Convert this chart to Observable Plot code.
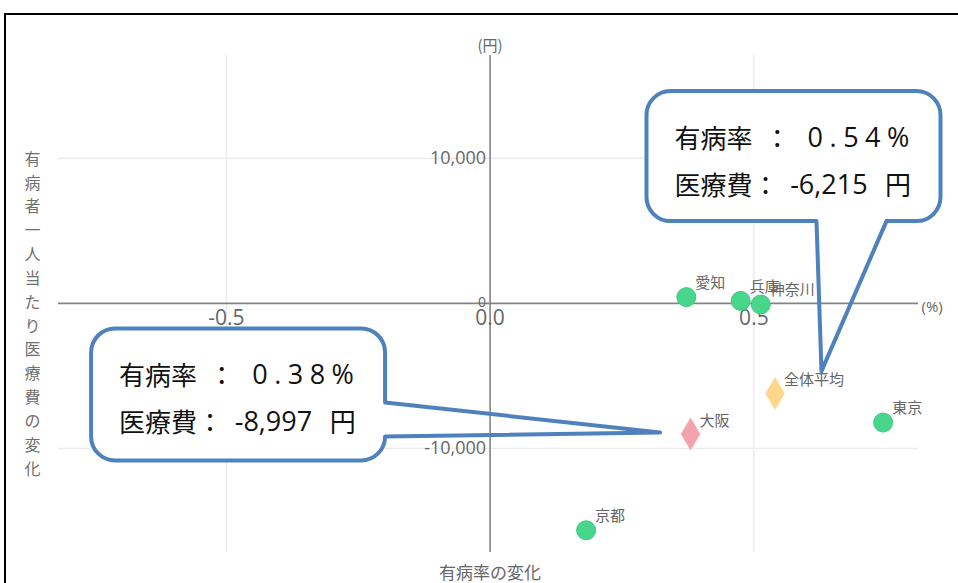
<!DOCTYPE html>
<html><head><meta charset="utf-8">
<script src="https://cdn.jsdelivr.net/npm/d3@7"></script>
<script src="https://cdn.jsdelivr.net/npm/@observablehq/plot@0.6"></script>
<style>
html,body{margin:0;padding:0;background:#fff;overflow:hidden;}
#wrap{position:relative;width:958px;height:583px;overflow:hidden;}
#chart{position:absolute;left:0;top:0;}
#frame{position:absolute;left:4px;top:13px;width:1000px;height:1000px;border:2px solid #000;box-sizing:border-box;pointer-events:none;}
</style></head><body>
<div id="wrap"><div id="chart"></div><div id="frame"></div></div>
<script>
// ---- data ----
const prefectures = ["愛知", "兵庫", "神奈川", "東京", "京都"];
const prevalenceChange = [0.372, 0.475, 0.513, 0.745, 0.182];
const costChange = [430, 170, -80, -8210, -15630];
const highlightNames = ["大阪", "全体平均"];
const highlightPrevalence = [0.38, 0.54];
const highlightCost = [-8997, -6215];
const highlightColors = ["#f3a3ab", "#ffd68a"];
const xTicks = [-0.5, 0.5];
const xTickLabels = ["-0.5", "0.5"];
const xZeroLabel = "0.0";
const yTicks = [-10000, 10000];
const yTickLabels = ["-10,000", "10,000"];
const yZeroLabel = "0";
const xTitle = "有病率の変化";
const yTitle = "有病者一人当たり医療費の変化";
const xUnit = "(%)";
const yUnit = "(円)";
const calloutFor = ["全体平均", "大阪"];

const points = prefectures.map((name, i) => ({name, x: prevalenceChange[i], y: costChange[i]}));
const highlights = highlightNames.map((name, i) => ({name, x: highlightPrevalence[i], y: highlightCost[i], color: highlightColors[i]}));
const xTickData = xTicks.map((v, i) => ({v, label: xTickLabels[i]}));
const yTickData = yTicks.map((v, i) => ({v, label: yTickLabels[i]}));

const cjk = "'Noto Sans CJK JP', 'Noto Sans', sans-serif";
const num = "'Open Sans', 'Noto Sans', sans-serif";
const tallDiamond = {draw(ctx) { ctx.moveTo(0, -16); ctx.lineTo(9.5, 0); ctx.lineTo(0, 16); ctx.lineTo(-9.5, 0); ctx.closePath(); }};

const chart = Plot.plot({
  width: 958, height: 583,
  marginLeft: 58, marginRight: 40, marginTop: 55, marginBottom: 31,
  x: {domain: [-0.818, 0.812], axis: null},
  y: {domain: [-17160, 17070], axis: null},
  color: {type: "identity"},
  style: {fontFamily: cjk, background: "transparent", overflow: "visible"},
  marks: [
    Plot.ruleX(xTicks, {stroke: "#ececec", strokeWidth: 1.5}),
    Plot.ruleY(yTicks, {stroke: "#ececec", strokeWidth: 1.5}),
    Plot.ruleY([0], {stroke: "#848484", strokeWidth: 1.6}),
    Plot.ruleX([0], {stroke: "#848484", strokeWidth: 1.6}),
    Plot.text(yTickData, {x: () => 0, y: "v", text: "label", textAnchor: "end", dx: -4, fontSize: 18, fill: "#666", fontFamily: num}),
    Plot.text([yZeroLabel], {x: () => 0, y: () => 0, text: d => d, textAnchor: "end", dx: -4, dy: -1, fontSize: 14, fill: "#666", fontFamily: num}),
    Plot.text(xTickData, {x: "v", y: () => 0, text: "label", dy: 15, fontSize: 21, fill: "#666", fontFamily: num}),
    Plot.text([xZeroLabel], {x: () => 0, y: () => 0, text: d => d, dy: 15, fontSize: 21, fill: "#666", fontFamily: num}),
    Plot.text([yUnit], {x: () => 0, frameAnchor: "top", text: d => d, dy: -15, fontSize: 15, fill: "#666"}),
    Plot.text([xUnit], {y: () => 0, frameAnchor: "right", text: d => d, textAnchor: "start", dx: 3, dy: 4, fontSize: 15, fill: "#666", fontFamily: num}),
    Plot.text([xTitle], {x: () => 0, frameAnchor: "bottom", text: d => d, dy: 26, fontSize: 17, fill: "#666"}),
    Plot.text([yTitle], {frameAnchor: "left", textAnchor: "middle", text: d => d.split("").join("\n"), dx: -26, dy: 8, lineHeight: 1.49, fontSize: 16, fill: "#707070"}),
    Plot.dot(points, {x: "x", y: "y", r: 9.5, fill: "#47d68c", stroke: "#3ccb80", strokeWidth: 1}),
    Plot.dot(highlights, {x: "x", y: "y", symbol: tallDiamond, fill: "color", stroke: "color", strokeWidth: 0.5}),
    Plot.text(points, {x: "x", y: "y", text: "name", dx: 9, dy: -14, textAnchor: "start", fontSize: 15, fill: "#666"}),
    Plot.text(highlights, {x: "x", y: "y", text: "name", dx: 9, dy: -13, textAnchor: "start", fontSize: 15, fill: "#666"})
  ]
});
document.getElementById("chart").appendChild(chart);

// ---- callouts anchored on data points ----
const sx = chart.scale("x"), sy = chart.scale("y");
const svg = d3.select(chart);
const R = 24;
const layouts = {
  "全体平均": {box: [-128, -302, 166, -172], side: "bottom", base: [42, 112], tip: [47, -22]},
  "大阪": {box: [-599, -105, -305, 27], side: "right", base: [-31, 3], tip: [-30, -1]}
};
const fmtCost = v => d3.format(",")(v).replace("\u2212", "-");
function toLines(h) {
  return [
    {cjk: "有病率  ：   ", num: h.x.toFixed(2) + "%", spacing: 6.5, tail: ""},
    {cjk: "医療費：  ", num: fmtCost(h.y), spacing: 0, tail: "   円"}
  ];
}
for (const name of calloutFor) {
  const h = highlights.find(d => d.name === name);
  const L = layouts[name];
  const px = sx.apply(h.x), py = sy.apply(h.y);
  const l = px + L.box[0], t = py + L.box[1], r = px + L.box[2], b = py + L.box[3];
  const tx = px + L.tip[0], ty = py + L.tip[1];
  let p = `M${l + R},${t}H${r - R}A${R},${R} 0 0 1 ${r},${t + R}`;
  if (L.side === "right") p += `V${py + L.base[0]}L${tx},${ty}L${r},${py + L.base[1]}`;
  p += `V${b - R}A${R},${R} 0 0 1 ${r - R},${b}`;
  if (L.side === "bottom") p += `H${px + L.base[1]}L${tx},${ty}L${px + L.base[0]},${b}`;
  p += `H${l + R}A${R},${R} 0 0 1 ${l},${b - R}V${t + R}A${R},${R} 0 0 1 ${l + R},${t}Z`;
  const g = svg.append("g").attr("text-anchor", "start");
  g.append("rect").attr("x", l).attr("y", t).attr("width", r - l).attr("height", b - t).attr("rx", R).attr("fill", "#fff");
  g.append("path").attr("d", p).attr("fill", "none").attr("stroke", "#4f81bd").attr("stroke-width", 4).attr("stroke-linejoin", "round");
  toLines(h).forEach((ln, i) => {
    const text = g.append("text").attr("x", l + 28).attr("y", t + 45 + i * 47)
      .attr("text-anchor", "start")
      .attr("dominant-baseline", "central").attr("fill", "#111")
      .style("white-space", "pre").attr("font-family", cjk).attr("font-size", 26);
    text.append("tspan").text(ln.cjk);
    text.append("tspan").attr("font-family", num).attr("font-size", 27).attr("letter-spacing", ln.spacing).text(ln.num);
    if (ln.tail) text.append("tspan").text(ln.tail);
  });
}
</script>
</body></html>
